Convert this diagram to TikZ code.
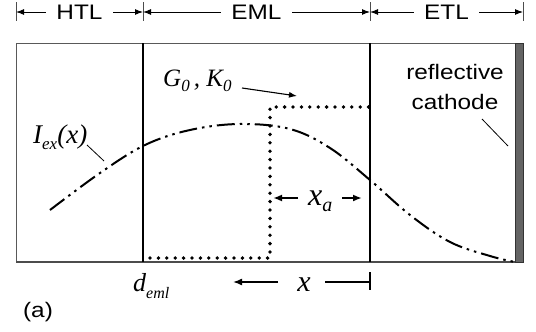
\documentclass[tikz,border=0pt]{standalone}
\usepackage{fontspec}
\setmainfont{Liberation Sans}[FakeStretch=1.16]
\newfontfamily\tms{Liberation Serif}
\usetikzlibrary{arrows.meta}
\newcommand\lsub[3]{\raisebox{#1}{\fontsize{#2}{#2}\selectfont #3}}
\tikzset{
  sanslab/.style={font=\fontsize{21}{25}\selectfont, inner sep=0pt},
  dimlab/.style={sanslab, fill=white, inner xsep=10pt, inner ysep=2pt},
  dimarrow/.style={line width=1pt, {Latex[length=8pt,width=6pt]}-{Latex[length=8pt,width=6pt]}},
  tickline/.style={line width=0.8pt, black!70},
  divider/.style={line width=2pt, black},
  frameline/.style={line width=1pt, black!65},
  dotline/.style={line width=3.8pt, line cap=round, dash pattern=on 0pt off 8.4pt},
  curveline/.style={line width=2pt, dash pattern=on 18pt off 5pt on 2.5pt off 5pt on 2.5pt off 5pt},
  leader/.style={line width=0.8pt},
  ptr/.style={line width=1.1pt, -{Latex[length=8pt,width=6pt]}},
  xarrow/.style={line width=2pt, -{Latex[length=9pt,width=7pt]}},
  serlab/.style={font=\tms\itshape, inner sep=0pt},
}
\begin{document}
\begin{tikzpicture}[x=1pt,y=-1pt]
\useasboundingbox (0,0) rectangle (536,332);
% top dimension line
\coordinate (t0) at (16,12);
\coordinate (t1) at (143,12);
\coordinate (t2) at (370,12);
\coordinate (t3) at (523,12);
\foreach \xx in {16,143,370,523} \draw[tickline] (\xx,2) -- (\xx,21);
\draw[dimarrow] (t0) -- (t1) node[midway, dimlab] (htl) {HTL};
\draw[dimarrow] (t1) -- (t2) node[midway, dimlab] (eml) {EML};
\draw[dimarrow] (t2) -- (t3) node[midway, dimlab] (etl) {ETL};
% frame
\coordinate (tl) at (16,43);
\coordinate (bl) at (16,262);
\coordinate (tr) at (515,43);
\coordinate (br) at (523,262);
\draw[frameline] (bl) -- (tl) -- (tr);
\draw[line width=1.4pt, black!70] (bl) -- (br);
\draw[divider] (143,43) -- (143,262);
\draw[divider] (370,43) -- (370,262);
\fill[fill={rgb,255:red,100;green,100;blue,100}, draw=black!80, line width=0.5pt] (515,43) rectangle (523,262);
% dotted profile
\coordinate (d0) at (150,258);
\coordinate (d1) at (270,258);
\coordinate (d2) at (270,107);
\coordinate (d3) at (370,107);
\draw[dotline] (d0) -- (d1) -- (d2) -- (d3);
% curve
\draw[curveline] plot[smooth, tension=0.6] coordinates {(50,210) (100,173) (145,145) (190,130) (240,124) (290,129) (330,148) (370,180) (410,215) (450,242) (490,256) (515,262)};
% labels
\node[serlab, anchor=base west] (iex) at (33,143) {\fontsize{27}{27}\selectfont I\lsub{-6pt}{17}{ex}(x)};
\coordinate (iexend) at (104,161);
\draw[leader] (87,145) -- (iexend);
\node[serlab, anchor=base west] (gk) at (163,86) {\fontsize{25}{25}\selectfont G\lsub{-5pt}{17}{0}\,, K\lsub{-5pt}{17}{0}};
\coordinate (gkend) at (297,96);
\draw[ptr] (242,88) -- (gkend);
\node[sanslab, align=center, anchor=north] (rc) at (455,64) {reflective\\[5pt]cathode};
\coordinate (rcend) at (508,146);
\draw[leader] (482,119) -- (rcend);
% x_a
\node[serlab, anchor=base west] (xa) at (308,205) {\fontsize{32}{32}\selectfont x\lsub{-6pt}{20}{a}};
\coordinate (xal) at (273,198);
\coordinate (xar) at (362,198);
\draw[xarrow] (298,198) -- (xal);
\draw[xarrow] (342,198) -- (xar);
% bottom
\node[serlab, anchor=base west] (deml) at (133,291) {\fontsize{26}{26}\selectfont d\lsub{-7pt}{16}{eml}};
\node[serlab, anchor=base] (xx) at (304,291) {\fontsize{30}{30}\selectfont x};
\coordinate (xl) at (233,282);
\coordinate (xr) at (370,282);
\draw[line width=1.6pt, -{Latex[length=9pt,width=7pt]}] (278,282) -- (xl);
\draw[line width=1.6pt] (325,282) -- (xr);
\draw[line width=1.6pt] (370,272) -- (370,290);
\node[sanslab] (a) at (38,312) {(a)};
\end{tikzpicture}
\end{document}
